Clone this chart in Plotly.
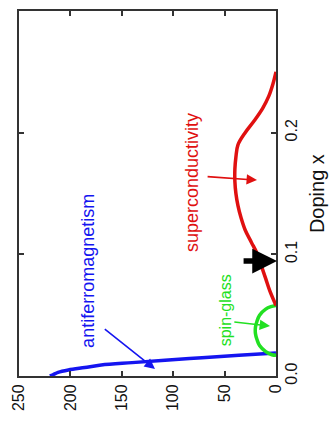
import plotly.graph_objects as go

# Phase diagram of a hole-doped cuprate: temperature (K) vs. doping x,
# drawn with the doping axis running vertically.

# Antiferromagnetic (Neel) boundary
af_doping = [0.0, 0.001, 0.003, 0.005, 0.007, 0.009, 0.011, 0.013, 0.015, 0.017, 0.019]
af_temp = [220, 217, 212, 202, 186, 170, 140, 108, 72, 36, 0]

# Spin-glass dome
sg_doping = [0.017, 0.0175, 0.02, 0.025, 0.03, 0.035, 0.04, 0.045, 0.05, 0.055, 0.057, 0.058]
sg_temp = [0, 4, 10, 16, 18.5, 20, 20, 18.5, 16, 10, 5, 0]

# Superconducting dome
sc_doping = [0.058, 0.07, 0.08, 0.09, 0.10, 0.11, 0.12, 0.13, 0.14, 0.15, 0.16,
             0.17, 0.18, 0.19, 0.20, 0.21, 0.22, 0.23, 0.24, 0.25]
sc_temp = [0, 6, 10, 14, 18, 24, 30, 34, 37, 39, 40, 40, 39, 37, 30, 21, 13, 7, 3, 0]

temp_ticks = [0, 50, 100, 150, 200, 250]
doping_ticks = [0.0, 0.1, 0.2, 0.3]

BLUE = "#1515f0"
GREEN = "#22e022"
RED = "#e01010"
FONT = "Liberation Sans, Arial, sans-serif"

fig = go.Figure()
fig.add_trace(go.Scatter(x=af_temp, y=af_doping, mode="lines",
                         line=dict(color=BLUE, width=3.5, shape="spline")))
fig.add_trace(go.Scatter(x=sg_temp, y=sg_doping, mode="lines",
                         line=dict(color=GREEN, width=3.5, shape="spline")))
fig.add_trace(go.Scatter(x=sc_temp, y=sc_doping, mode="lines",
                         line=dict(color=RED, width=3.5, shape="spline")))

labels = [
    ("antiferromagnetism", 183, 0.0863, BLUE, 18),
    ("superconductivity", 81.7, 0.1586, RED, 18),
    ("spin-glass", 49.6, 0.054, GREEN, 16),
]
for text, t, d, col, size in labels:
    fig.add_annotation(x=t, y=d, xref="x", yref="y", text=text, showarrow=False,
                       textangle=-90, font=dict(family=FONT, size=size, color=col))

# pointer arrows: (tail T, tail x, head T, head x, colour, width, size)
arrows = [
    (168, 0.0395, 117.7, 0.0058, BLUE, 1.6, 1.3),
    (42, 0.0445, 5.8, 0.041, GREEN, 1.6, 1.3),
    (68, 0.164, 18.5, 0.161, RED, 1.6, 1.3),
    (33, 0.0945, -1, 0.0945, "#000000", 5.5, 0.9),
]
for t0, d0, t1, d1, col, w, s in arrows:
    fig.add_annotation(x=t1, y=d1, ax=t0, ay=d0, xref="x", yref="y",
                       axref="x", ayref="y", text="", showarrow=True,
                       arrowhead=2, arrowwidth=w, arrowsize=s, arrowcolor=col)

# doping axis title, placed beside the right-hand tick labels
fig.add_annotation(x=1.158, y=0.5, xref="paper", yref="paper", text="Doping x",
                   showarrow=False, textangle=-90, xanchor="center", yanchor="middle",
                   font=dict(family=FONT, size=20, color="#111111"))

fig.update_layout(
    width=331, height=423,
    margin=dict(l=19, r=55, t=11, b=47, autoexpand=False),
    paper_bgcolor="white", plot_bgcolor="white",
    showlegend=False,
    font=dict(family=FONT, size=16, color="#111111"),
)
fig.update_xaxes(range=[250, 0], tickvals=temp_ticks, ticktext=[str(v) for v in temp_ticks],
                 tickangle=-90, ticks="inside", ticklen=5, tickwidth=1.5, tickcolor="#333333",
                 showline=True, linecolor="#333333", linewidth=2, mirror="ticks",
                 showgrid=False, zeroline=False, tickfont=dict(size=16), automargin=False)
fig.update_yaxes(range=[0, 0.3], side="right", tickvals=doping_ticks,
                 ticktext=[f"{v:.1f}" for v in doping_ticks],
                 tickangle=-90, ticks="inside", ticklen=5, tickwidth=1.5, tickcolor="#333333",
                 showline=True, linecolor="#333333", linewidth=2, mirror="ticks",
                 showgrid=False, zeroline=False, tickfont=dict(size=16), automargin=False)

fig.write_html("out.html")
